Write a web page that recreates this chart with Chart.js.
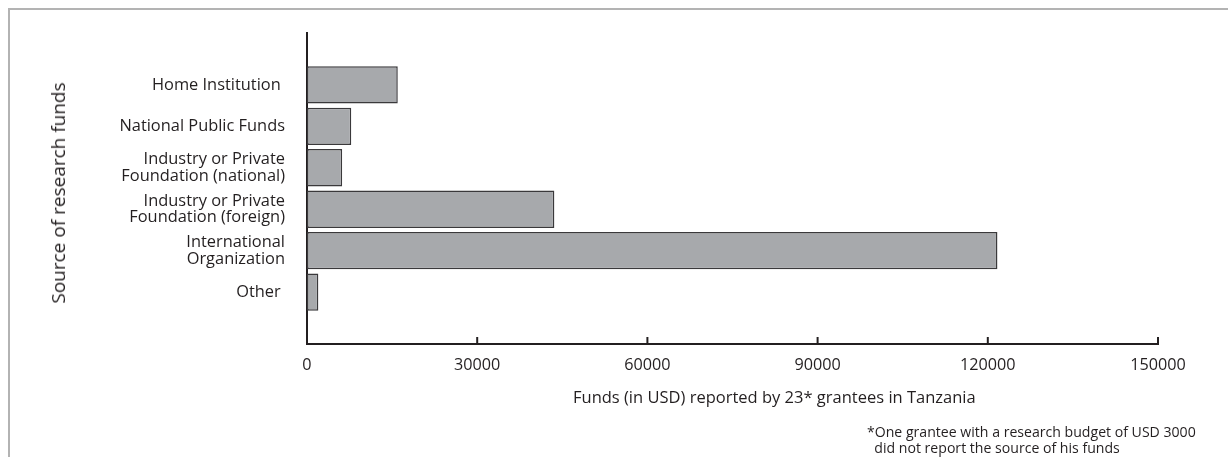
<!DOCTYPE html>
<html>
<head>
<meta charset="utf-8">
<script src="https://cdn.jsdelivr.net/npm/chart.js@4.4.1/dist/chart.umd.min.js"></script>
<style>
  html,body{margin:0;padding:0;background:#fff;}
  body{width:1228px;height:457px;position:relative;overflow:hidden;font-family:"Open Sans",sans-serif;color:#231f20;}
  #frame{position:absolute;left:8px;top:8px;width:1400px;height:600px;border-top:2px solid #b3b3b3;border-left:2px solid #b3b3b3;}
  #wrap{position:absolute;left:0;top:0;width:1228px;height:457px;}
  #ytitle{position:absolute;left:58px;top:193px;font-size:19px;line-height:24px;white-space:nowrap;transform:translate(-50%,-50%) rotate(-90deg);}
  #xtitle{position:absolute;top:386px;left:573px;font-size:16.5px;line-height:22px;white-space:nowrap;}
  #note{position:absolute;top:424px;left:867px;font-size:14.1px;line-height:16px;white-space:pre;}
</style>
</head>
<body>
<div id="frame"></div>
<div id="wrap"><canvas id="chart" width="1228" height="457"></canvas></div>
<div id="ytitle">Source of research funds</div>
<div id="xtitle">Funds (in USD) reported by 23* grantees in Tanzania</div>
<div id="note">*One grantee with a research budget of USD 3000
  did not report the source of his funds</div>
<script>
/* fontes de recursos de pesquisa – barras horizontais */

const sources=[
  ['Home Institution '],
  ['National Public Funds'],
  ['Industry or Private','Foundation (national)'],
  ['Industry or Private','Foundation (foreign)'],
  ['International','Organization'],
  ['Other ']
];
const funds=[16000,7800,6200,43600,121700,2000];
const xTicks=[0,30000,60000,90000,120000,150000];

const ink='#231f20';
const font=(size,lh)=>({family:'Open Sans',size,lineHeight:lh||1.2});

/* marcas do eixo x apontando para dentro */
const innerTicks={id:'innerTicks',afterDraw(c){
  const x=c.scales.x,ctx=c.ctx,b=c.chartArea.bottom;
  ctx.save();ctx.strokeStyle=ink;ctx.lineWidth=2;
  for(const v of xTicks){if(v===0)continue;const p=x.getPixelForValue(v);
    ctx.beginPath();ctx.moveTo(p,b);ctx.lineTo(p,b-7);ctx.stroke();}
  ctx.restore();}};

new Chart(document.getElementById('chart'),{
  type:'bar',
  data:{datasets:[{
    data:funds.map((v,i)=>({x:v,y:i})),
    backgroundColor:'#a7a9ac',borderColor:'#3a393b',borderWidth:1.5,borderSkipped:false,
    categoryPercentage:1,barPercentage:0.9
  }]},
  options:{
    indexAxis:'y',responsive:false,animation:false,
    layout:{padding:{top:33,right:70,left:0,bottom:0}},
    plugins:{legend:{display:false},tooltip:{enabled:false}},
    scales:{
      x:{type:'linear',min:0,max:150000,bounds:'data',
        afterBuildTicks:s=>{s.ticks=xTicks.map(v=>({value:v}));},
        afterFit:s=>{s.height=113;},
        grid:{display:false},border:{display:true,color:ink,width:2},
        ticks:{color:ink,padding:4,maxRotation:0,font:font(16.2),callback:v=>String(v)}},
      y:{type:'linear',reverse:true,offset:false,min:-1.25,max:6.25,bounds:'data',
        afterDataLimits:s=>{s.min=-1.25;s.max=6.25;},
        afterBuildTicks:s=>{s.ticks=sources.map((_,i)=>({value:i}));},
        afterFit:s=>{s.width=307;},
        grid:{display:false,drawTicks:false,offset:false},border:{display:true,color:ink,width:2},
        ticks:{color:ink,padding:22,font:font(16.4,1.0),callback:v=>sources[v]}}
    }
  },
  plugins:[innerTicks]
});
</script>
</body>
</html>
